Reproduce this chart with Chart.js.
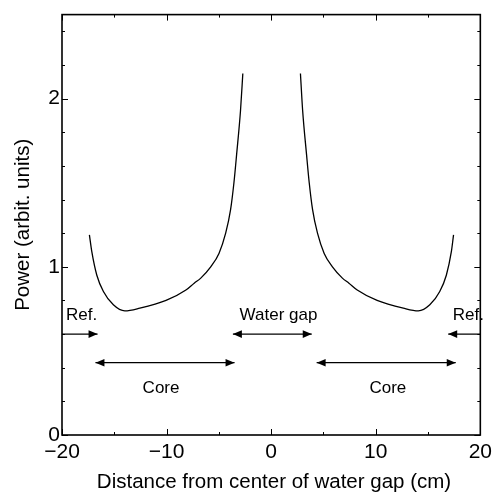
<!DOCTYPE html>
<html>
<head>
<meta charset="utf-8">
<script src="https://cdn.jsdelivr.net/npm/chart.js@4.4.1/dist/chart.umd.min.js"></script>
<style>
  html, body { margin: 0; padding: 0; background: #fff; }
  #wrap { width: 497px; height: 498px; }
</style>
</head>
<body>
<div id="wrap"><canvas id="powerChart" width="497" height="498"></canvas></div>
<script>
// power distribution
const leftX  = [-17.38, -17.15, -16.67, -16.04, -15.09, -13.99, -12.56, -10.05, -8.15, -7.36, -6.73, -5.78, -4.99, -4.35, -3.88, -3.56, -3.30, -2.93, -2.71];
const leftY  = [1.19, 1.09, 0.95, 0.853, 0.774, 0.738, 0.754, 0.80, 0.862, 0.903, 0.933, 1.00, 1.08, 1.20, 1.34, 1.50, 1.67, 1.93, 2.15];
const rightX = [2.80, 3.01, 3.38, 3.64, 3.96, 4.43, 5.07, 5.86, 6.81, 7.44, 8.23, 10.13, 12.64, 14.07, 15.17, 16.12, 16.75, 17.23, 17.44];
const rightY = [2.15, 1.93, 1.67, 1.50, 1.34, 1.20, 1.08, 1.00, 0.933, 0.903, 0.862, 0.80, 0.754, 0.738, 0.774, 0.853, 0.95, 1.09, 1.19];

const xTickMarks = [-20, -15, -10, -5, 0, 5, 10, 15, 20];
const yTickMarks = [0, 0.2, 0.4, 0.6, 0.8, 1.0, 1.2, 1.4, 1.6, 1.8, 2.0, 2.2, 2.4];

// region arrows (data units) and their labels
const arrows = [
  { x1: -20,   x2: -16.6, y: 0.6,  heads: 'end' },
  { x1: -3.66, x2: 3.88,  y: 0.6,  heads: 'both' },
  { x1: 20,    x2: 16.93, y: 0.6,  heads: 'end' },
  { x1: -16.8, x2: -3.5,  y: 0.43, heads: 'both' },
  { x1: 4.35,  x2: 17.65, y: 0.43, heads: 'both' }
];
const labels = [
  { text: 'Ref.',      x: -18.13, y: 0.71 },
  { text: 'Water gap', x: 0.7,    y: 0.71 },
  { text: 'Ref.',      x: 18.86,  y: 0.71 },
  { text: 'Core',      x: -10.53, y: 0.28 },
  { text: 'Core',      x: 11.16,  y: 0.28 }
];

const FONT = '"Liberation Sans", Arial, sans-serif';

function toPoints(xs, ys) {
  return xs.map((v, i) => ({ x: v, y: ys[i] }));
}

function drawHead(ctx, tipX, tipY, dir) {
  // dir = +1 points right, -1 points left
  ctx.beginPath();
  ctx.moveTo(tipX, tipY);
  ctx.lineTo(tipX - dir * 9, tipY - 3.8);
  ctx.lineTo(tipX - dir * 9, tipY + 3.8);
  ctx.closePath();
  ctx.fill();
}

const frameTicks = {
  id: 'frameTicks',
  afterDraw(chart) {
    const { ctx, chartArea: a, scales: { x, y } } = chart;
    ctx.save();
    ctx.strokeStyle = '#000';
    ctx.lineWidth = 1;
    ctx.beginPath();
    xTickMarks.forEach(v => {
      const px = Math.round(x.getPixelForValue(v)) + 0.5;
      const len = v % 10 === 0 ? 6 : 3;
      ctx.moveTo(px, a.bottom); ctx.lineTo(px, a.bottom - len);
      ctx.moveTo(px, a.top);    ctx.lineTo(px, a.top + len);
    });
    yTickMarks.forEach(v => {
      const py = Math.round(y.getPixelForValue(v)) + 0.5;
      const len = Math.abs(v - Math.round(v)) < 1e-6 ? 6 : 3;
      ctx.moveTo(a.left, py);  ctx.lineTo(a.left + len, py);
      ctx.moveTo(a.right, py); ctx.lineTo(a.right - len, py);
    });
    ctx.stroke();
    ctx.lineWidth = 1.6;
    ctx.strokeRect(a.left, a.top, a.width, a.height);

    // annotations
    ctx.fillStyle = '#000';
    ctx.lineWidth = 1.3;
    arrows.forEach(ar => {
      const x1 = x.getPixelForValue(ar.x1);
      const x2 = x.getPixelForValue(ar.x2);
      const py = y.getPixelForValue(ar.y);
      const dir = x2 > x1 ? 1 : -1;
      ctx.beginPath();
      ctx.moveTo(x1, py); ctx.lineTo(x2, py);
      ctx.stroke();
      drawHead(ctx, x2, py, dir);
      if (ar.heads === 'both') drawHead(ctx, x1, py, -dir);
    });
    ctx.font = '17px ' + FONT;
    ctx.textAlign = 'center';
    ctx.textBaseline = 'middle';
    labels.forEach(l => {
      ctx.fillText(l.text, x.getPixelForValue(l.x), y.getPixelForValue(l.y));
    });
    ctx.restore();
  }
};

const ctx = document.getElementById('powerChart').getContext('2d');
new Chart(ctx, {
  type: 'scatter',
  data: {
    datasets: [
      { data: toPoints(leftX, leftY) },
      { data: toPoints(rightX, rightY) }
    ].map(ds => ({
      ...ds,
      showLine: true,
      borderColor: '#000',
      borderWidth: 1.3,
      pointRadius: 0,
      cubicInterpolationMode: 'monotone',
      fill: false
    }))
  },
  options: {
    responsive: false,
    animation: false,
    devicePixelRatio: 1,
    layout: { padding: { top: 14, right: 14, left: 0, bottom: 0 } },
    plugins: { legend: { display: false }, tooltip: { enabled: false } },
    scales: {
      x: {
        type: 'linear',
        min: -20, max: 20,
        grid: { display: false, drawTicks: false },
        border: { display: false },
        ticks: {
          stepSize: 10,
          padding: 5,
          color: '#000',
          font: { family: FONT, size: 21 },
          maxRotation: 0,
          callback: v => (v < 0 ? '\u2212' + Math.abs(v) : String(v))
        },
        title: {
          display: true,
          text: ' Distance from center of water gap (cm)',
          color: '#000',
          font: { family: FONT, size: 20.5 },
          padding: { top: 0, bottom: 3 }
        },
        afterFit: s => { s.height = 63; }
      },
      y: {
        min: 0, max: 2.5,
        grid: { display: false, drawTicks: false },
        border: { display: false },
        ticks: {
          stepSize: 1,
          includeBounds: false,
          padding: 2,
          color: '#000',
          font: { family: FONT, size: 21 }
        },
        title: {
          display: true,
          text: 'Power (arbit. units)',
          color: '#000',
          font: { family: FONT, size: 20.5 },
          padding: { top: 11, bottom: 0 }
        },
        afterFit: s => { s.width = 62; }
      }
    }
  },
  plugins: [frameTicks]
});
</script>
</body>
</html>
